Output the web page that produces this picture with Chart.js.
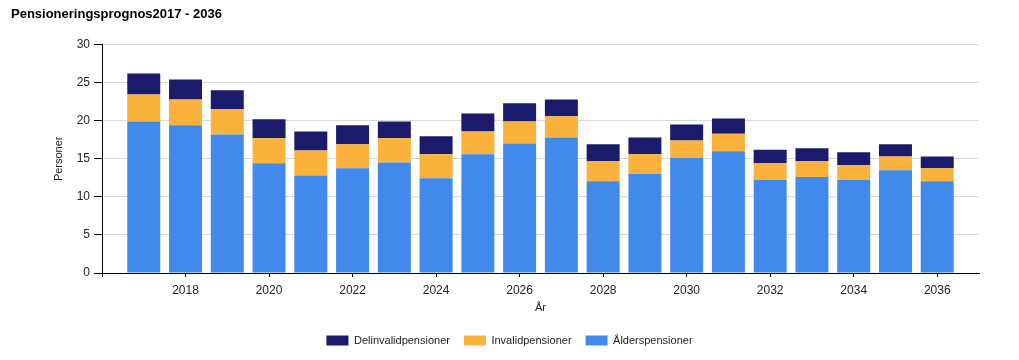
<!DOCTYPE html>
<html>
<head>
<meta charset="utf-8">
<script src="https://cdn.jsdelivr.net/npm/chart.js@4"></script>
<style>
    html, body { margin: 0; padding: 0; background: #fff; }
    #wrap { width: 1019px; height: 360px; }
</style>
</head>
<body>
<div id="wrap"><canvas id="pensionChart" width="1019" height="360"></canvas></div>
<script>
// Data
const years = [2017, 2018, 2019, 2020, 2021, 2022, 2023, 2024, 2025, 2026,
               2027, 2028, 2029, 2030, 2031, 2032, 2033, 2034, 2035, 2036];
const alderspensioner = [19.9, 19.4, 18.2, 14.4, 12.8, 13.75, 14.5, 12.45, 15.6, 17.0,
                         17.8, 12.05, 13.0, 15.1, 16.0, 12.2, 12.6, 12.2, 13.5, 12.05];
const invalidpensioner = [3.55, 3.4, 3.3, 3.3, 3.3, 3.15, 3.2, 3.15, 3.0, 2.9,
                          2.8, 2.65, 2.6, 2.3, 2.3, 2.2, 2.1, 1.95, 1.8, 1.7];
const delinvalidpensioner = [2.75, 2.6, 2.5, 2.5, 2.5, 2.5, 2.2, 2.35, 2.35, 2.4,
                             2.2, 2.2, 2.2, 2.1, 2.0, 1.8, 1.7, 1.7, 1.6, 1.55];
const yTicks = [0, 5, 10, 15, 20, 25, 30];

const FONT = "'Liberation Sans', Arial, sans-serif";

function toPoints(values) {
    return years.map((yr, i) => ({ x: yr, y: values[i] }));
}

document.addEventListener('DOMContentLoaded', function() {
    initChart();
});

function initChart() {
    const ctx = document.getElementById('pensionChart').getContext('2d');

    const data = {
        datasets: [
            { label: 'Ålderspensioner', data: toPoints(alderspensioner), backgroundColor: '#418aeb' },
            { label: 'Invalidpensioner', data: toPoints(invalidpensioner), backgroundColor: '#fbb23c' },
            { label: 'Delinvalidpensioner', data: toPoints(delinvalidpensioner), backgroundColor: '#1b1b6b' }
        ]
    };

    const config = {
        type: 'bar',
        data: data,
        options: {
            responsive: false,
            animation: false,
            events: [],
            categoryPercentage: 0.79,
            barPercentage: 1,
            layout: {
                padding: { left: 11, right: 11, top: 0, bottom: 4 }
            },
            plugins: {
                title: {
                    display: true,
                    text: 'Pensioneringsprognos2017 - 2036',
                    align: 'start',
                    color: '#000',
                    font: { family: FONT, size: 13, weight: 'bold' },
                    padding: { top: 7, bottom: 22 }
                },
                legend: {
                    position: 'bottom',
                    reverse: true,
                    labels: {
                        boxWidth: 22,
                        boxHeight: 10,
                        padding: 14,
                        color: '#222',
                        font: { family: FONT, size: 11 }
                    }
                },
                tooltip: { enabled: false }
            },
            scales: {
                x: {
                    type: 'linear',
                    stacked: true,
                    offset: false,
                    min: 2016,
                    max: 2037,
                    grid: {
                        offset: false,
                        drawOnChartArea: false,
                        tickLength: 4,
                        tickColor: '#000'
                    },
                    border: { color: '#000' },
                    ticks: {
                        stepSize: 2,
                        includeBounds: false,
                        autoSkip: false,
                        maxRotation: 0,
                        padding: 6,
                        color: '#222',
                        font: { family: FONT, size: 12 },
                        callback: function(value) {
                            return value === 2016 ? '' : String(value);
                        }
                    },
                    title: {
                        display: true,
                        text: 'År',
                        color: '#222',
                        font: { family: FONT, size: 11 },
                        padding: { top: 0, bottom: 6 }
                    },
                    afterFit: function(scale) { scale.height = 48; }
                },
                y: {
                    stacked: true,
                    min: 0,
                    max: 30,
                    grid: {
                        color: '#d9d9d9',
                        tickColor: '#000',
                        tickLength: 8
                    },
                    border: { color: '#000' },
                    ticks: {
                        stepSize: 5,
                        padding: 4,
                        color: '#222',
                        font: { family: FONT, size: 12 },
                        callback: function(value) {
                            return yTicks.includes(value) ? String(value) : '';
                        }
                    },
                    title: {
                        display: true,
                        text: 'Personer',
                        color: '#222',
                        font: { family: FONT, size: 11 },
                        padding: { top: 41, bottom: 0 }
                    },
                    afterFit: function(scale) { scale.width = 91; }
                },
                // empty right axis, only keeps the right margin
                yRight: {
                    type: 'linear',
                    position: 'right',
                    grid: { display: false },
                    border: { display: false },
                    ticks: { display: false },
                    afterFit: function(scale) { scale.width = 29; }
                }
            }
        }
    };

    new Chart(ctx, config);
}
</script>
</body>
</html>
